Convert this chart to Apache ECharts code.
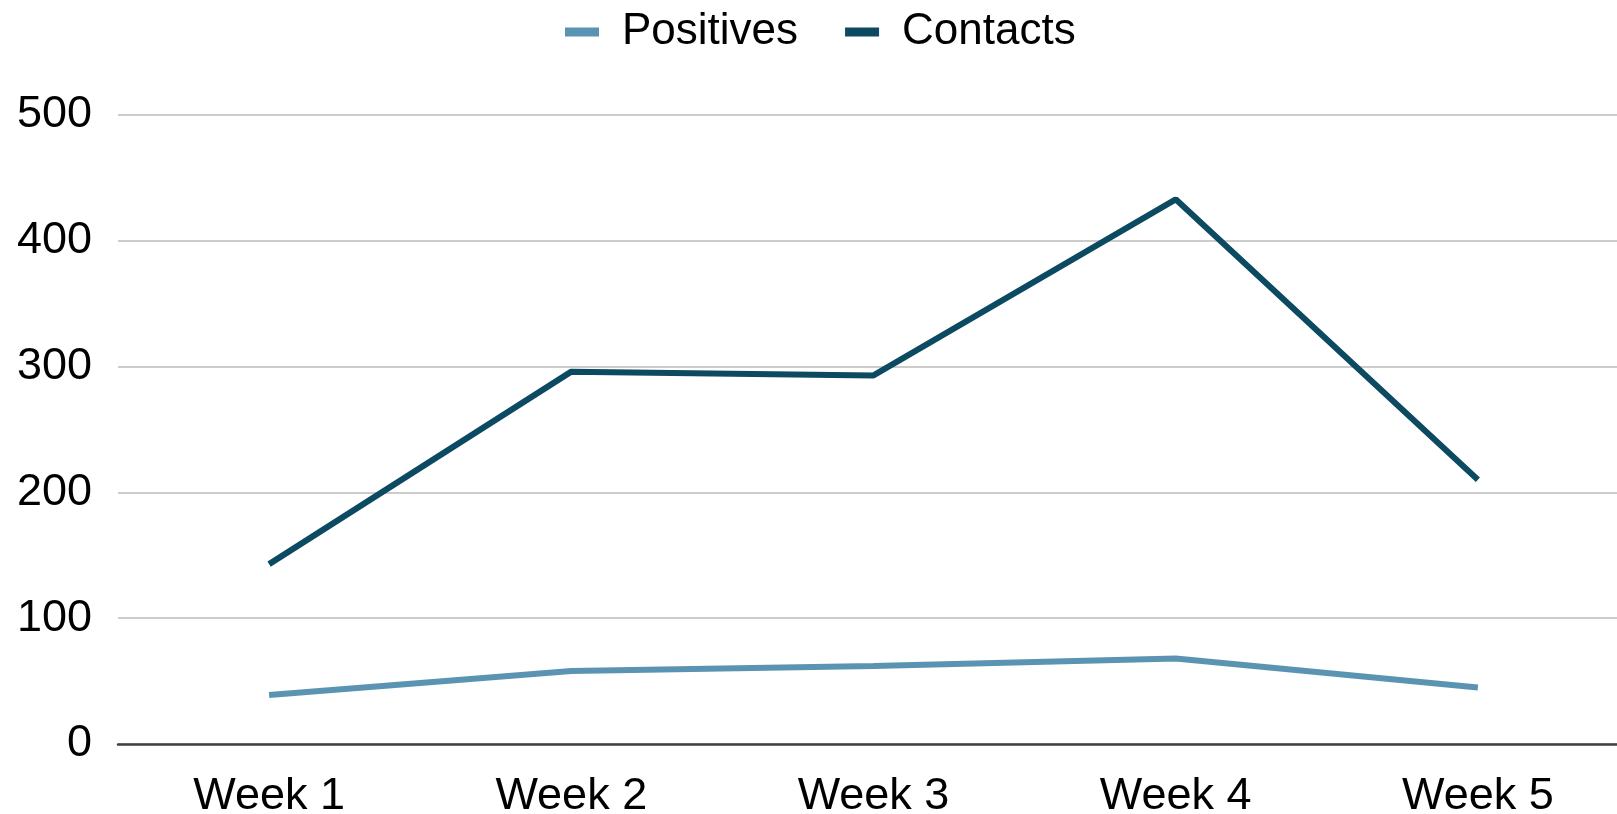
<!DOCTYPE html>
<html>
<head>
<meta charset="utf-8">
<script src="https://cdn.jsdelivr.net/npm/echarts@6/dist/echarts.min.js"></script>
<style>
html,body{margin:0;padding:0;background:#fff;}
#chart{width:1617px;height:814px;}
</style>
</head>
<body>
<div id="chart"></div>
<script>
const categories = ['Week 1', 'Week 2', 'Week 3', 'Week 4', 'Week 5'];
const positives = [39, 58, 62, 68, 45];
const contacts = [143, 296, 293, 433, 210];
const yTicks = { min: 0, max: 500, interval: 100 };

const chart = echarts.init(document.getElementById('chart'));
const font = '"Liberation Sans", Arial, sans-serif';
chart.setOption({
  animation: false,
  legend: {
    top: 5,
    left: 560,
    itemWidth: 34,
    itemHeight: 9,
    itemGap: 47,
    icon: 'rect',
    textStyle: { fontFamily: font, fontSize: 44, color: '#000', padding: [0, 0, 0, 18] },
    data: ['Positives', 'Contacts']
  },
  grid: { left: 118, width: 1511, top: 115, bottom: 70, outerBoundsMode: 'none', containLabel: false },
  xAxis: {
    type: 'category',
    data: categories,
    boundaryGap: true,
    axisLine: { lineStyle: { color: '#404040', width: 2.5 } },
    axisTick: { show: false },
    axisLabel: { fontFamily: font, fontSize: 45, color: '#000', margin: 30 }
  },
  yAxis: {
    type: 'value',
    min: yTicks.min,
    max: yTicks.max,
    interval: yTicks.interval,
    axisLine: { show: false },
    axisTick: { show: false },
    axisLabel: { fontFamily: font, fontSize: 45, color: '#000', margin: 26 },
    splitLine: { lineStyle: { color: '#cccccc', width: 2 } }
  },
  series: [
    {
      name: 'Positives', type: 'line', data: positives,
      symbol: 'none', color: '#5b94b2',
      lineStyle: { width: 6, color: '#5b94b2' }
    },
    {
      name: 'Contacts', type: 'line', data: contacts,
      symbol: 'none', color: '#0c4a62',
      lineStyle: { width: 6, color: '#0c4a62' }
    }
  ]
});
</script>
</body>
</html>
